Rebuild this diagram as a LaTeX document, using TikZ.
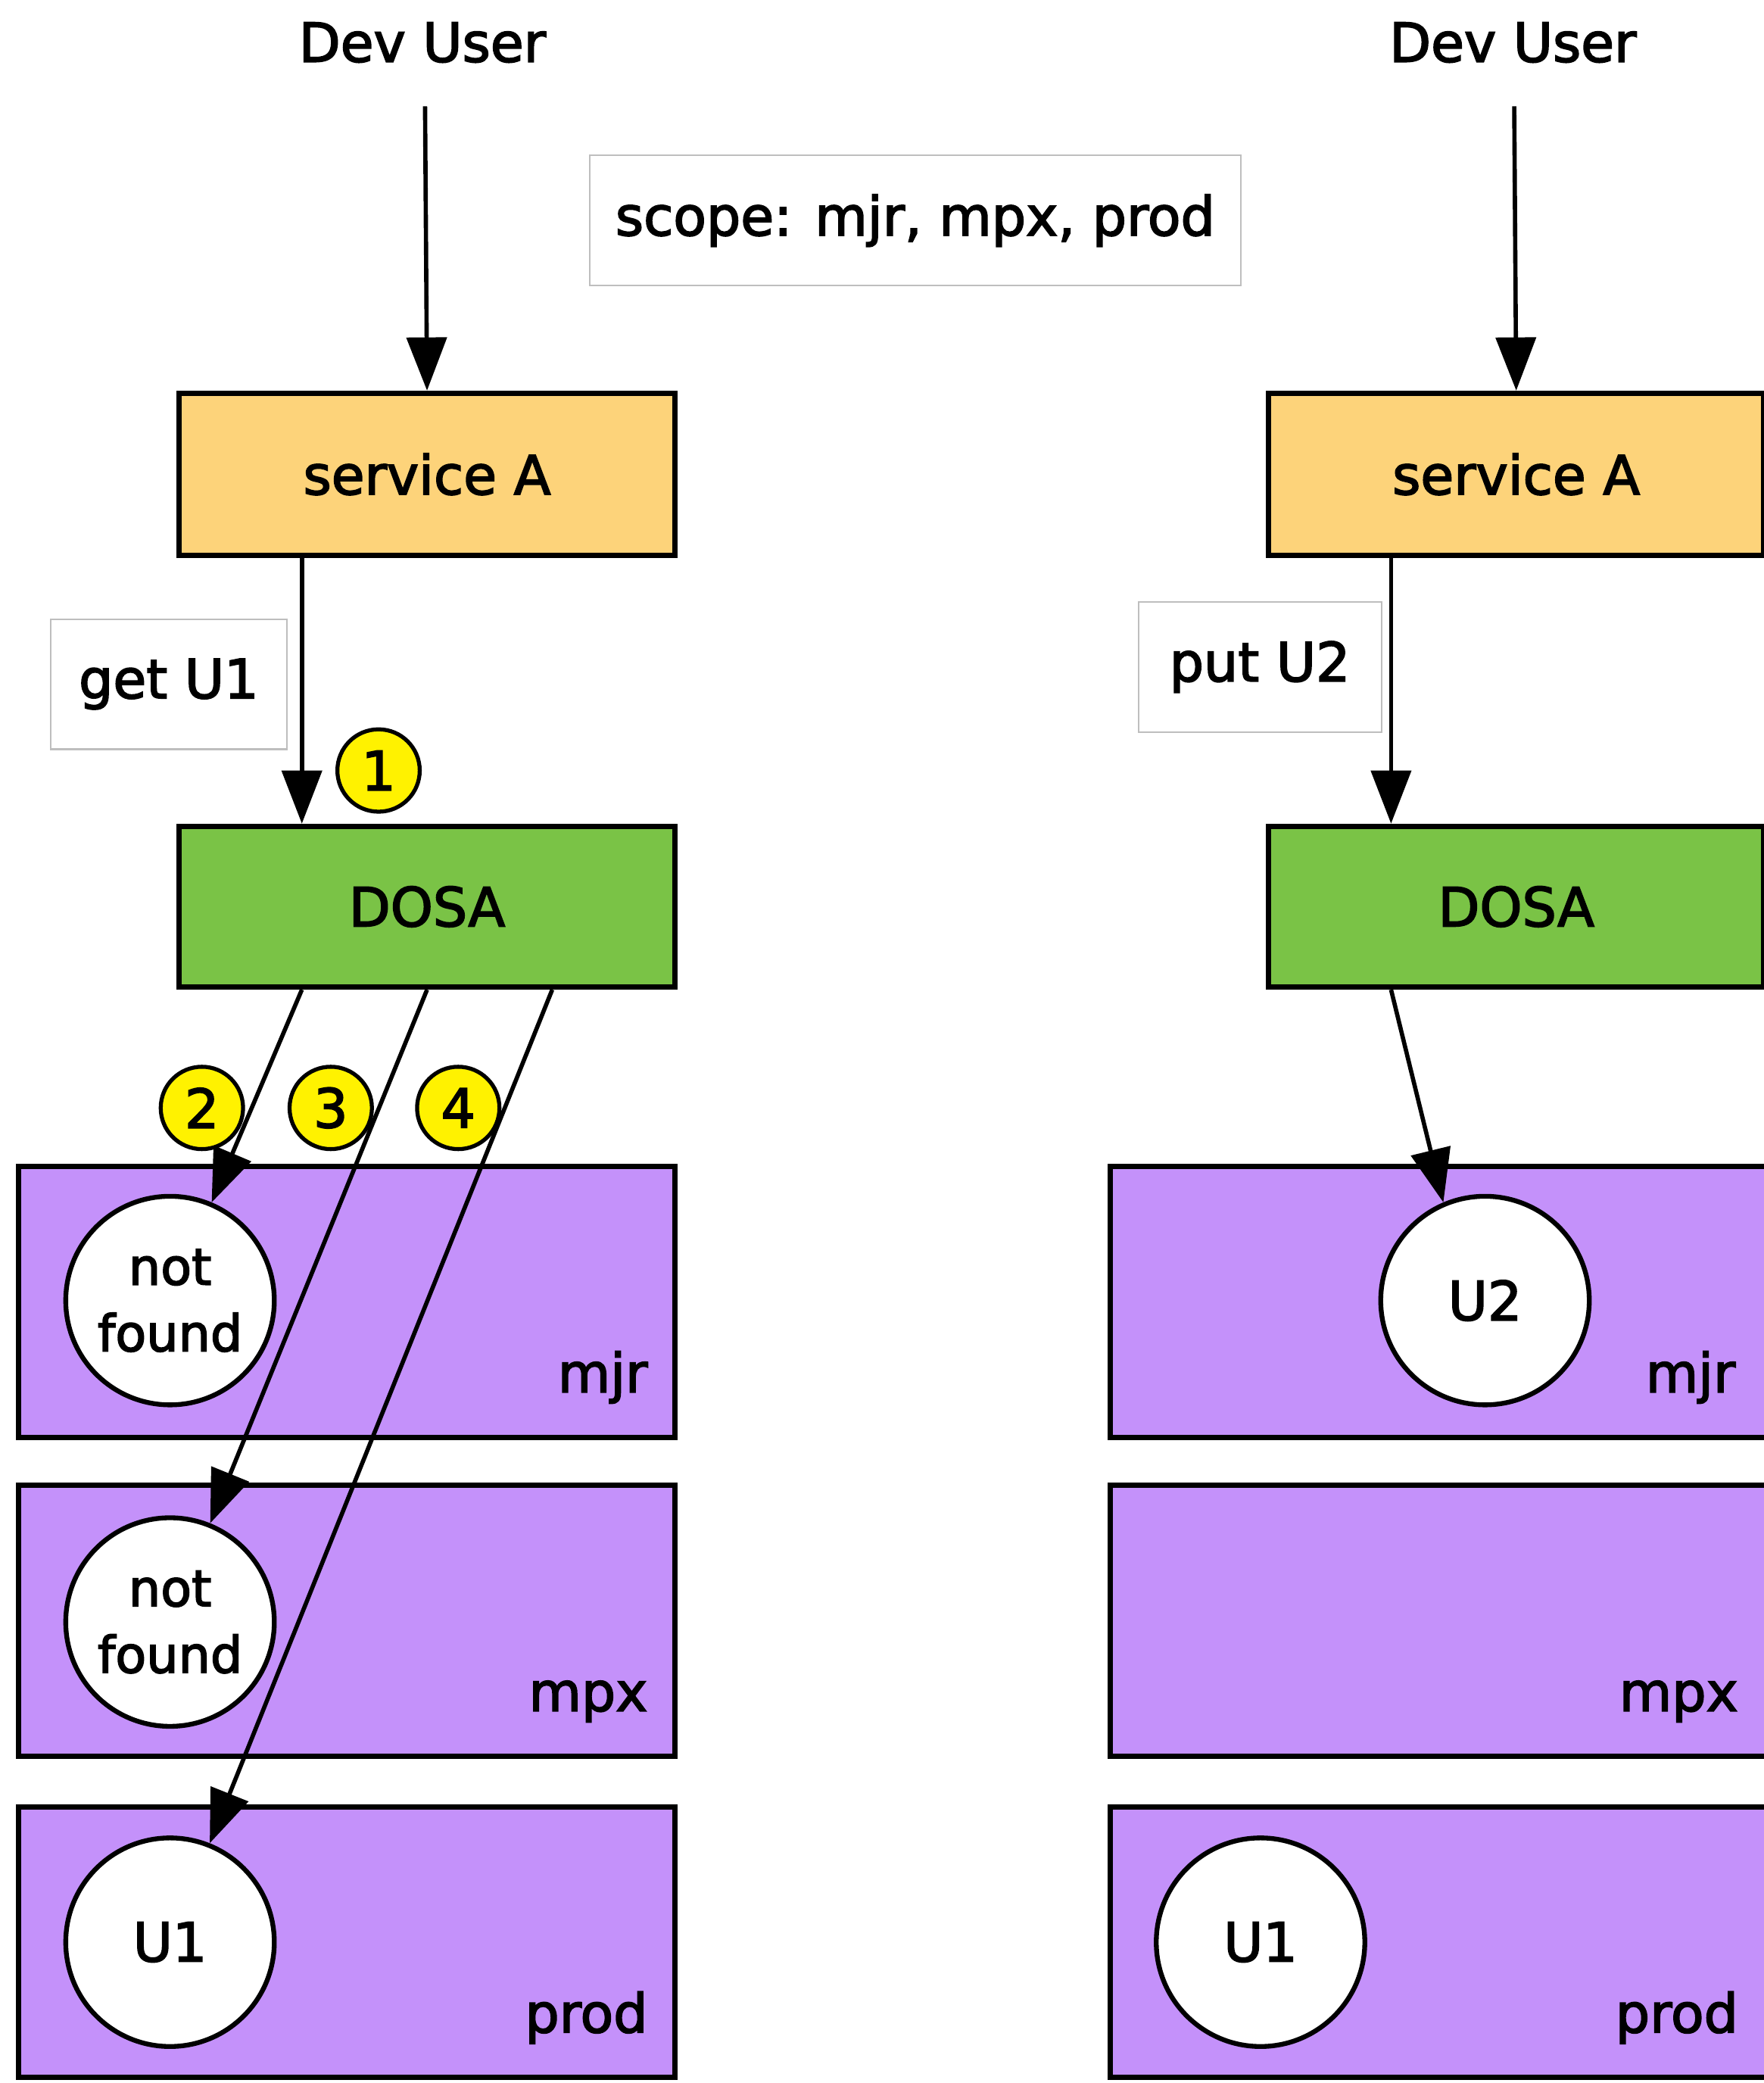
\documentclass[tikz,border=0pt]{standalone}
\usepackage{fontspec}
\setmainfont{DejaVu Sans}[FakeBold=2.5]
\usetikzlibrary{arrows.meta,calc}
\definecolor{svcfill}{RGB}{253,211,122}
\definecolor{dosafill}{RGB}{122,195,70}
\definecolor{storefill}{RGB}{196,145,250}
\definecolor{numyellow}{RGB}{255,242,0}
\definecolor{lblgray}{RGB}{190,190,190}
\begin{document}
\begin{tikzpicture}[x=0.017545cm, y=-0.017545cm,
  font=\fontsize{20.3pt}{25pt}\selectfont,
  box/.style={draw, line width=2pt, minimum width=6.544cm, minimum height=2.140cm, inner sep=0pt},
  svc/.style={box, fill=svcfill},
  dosa/.style={box, fill=dosafill, minimum height=2.123cm},
  store/.style={draw, line width=2pt, fill=storefill, minimum width=8.667cm, minimum height=3.579cm, inner sep=0pt},
  lbl/.style={draw=lblgray, line width=0.6pt, minimum height=1.719cm, inner sep=0pt},
  rec/.style={circle, draw, line width=1.8pt, fill=white, minimum size=2.755cm, inner sep=0pt, align=center},
  num/.style={circle, draw, line width=1.5pt, fill=numyellow, minimum size=1.088cm, inner sep=0pt},
  arr/.style={-{Triangle[length=20pt,width=15pt]}, line width=1.6pt},
  tag/.style={anchor=base east, inner sep=0pt}
]
\useasboundingbox (0,0) rectangle (1328,1568);

% ---------- left column ----------
\node (devL) at (318,32) {Dev User};
\coordinate (devLs) at (320,80);
\node[lbl, minimum width=8.597cm] (scope) at (689,166) {scope: mjr, mpx, prod};
\node[svc] (svcL) at (321.5,357) {service A};
\node[lbl, minimum width=3.123cm] (getU1) at (127,515) {get U1};
\node[dosa] (dosaL) at (321.5,682.5) {DOSA};

\node[store] (mjrL) at (261,980) {};
\node[store] (mpxL) at (261,1220) {};
\node[store] (prodL) at (261,1462) {};
\node[tag] (mjrLt) at ($(mjrL.south east)+(-22,-36)$) {mjr};
\node[tag] (mpxLt) at ($(mpxL.south east)+(-22,-36)$) {mpx};
\node[tag] (prodLt) at ($(prodL.south east)+(-22,-36)$) {prod};

\node[rec, font=\fontsize{19pt}{25pt}\selectfont] (nf1) at (128,979) {not\\found};
\node[rec, font=\fontsize{19pt}{25pt}\selectfont] (nf2) at (128,1221) {not\\found};
\node[rec] (u1L) at (128,1462) {U1};

\draw[arr] (devLs) -- (svcL.north);
\draw[arr] ($(svcL.south west)!.25!(svcL.south east)$) -- ($(dosaL.north west)!.25!(dosaL.north east)$);
\draw[arr] ($(dosaL.south west)!.25!(dosaL.south east)$) -- (nf1);
\draw[arr] (dosaL.south) -- (nf2);
\draw[arr] ($(dosaL.south west)!.75!(dosaL.south east)$) -- (u1L);

\node[num] (n1) at (285,580) {1};
\node[num] (n2) at (152,834) {2};
\node[num] (n3) at (249,834) {3};
\node[num] (n4) at (345,834) {4};

% ---------- right column ----------
\node (devR) at (1139,32) {Dev User};
\coordinate (devRs) at (1140,80);
\node[svc] (svcR) at (1141.5,357) {service A};
\node[lbl, minimum width=3.211cm] (putU2) at (948.5,502) {put U2};
\node[dosa] (dosaR) at (1141.5,682.5) {DOSA};

\node[store] (mjrR) at (1083,980) {};
\node[store] (mpxR) at (1083,1220) {};
\node[store] (prodR) at (1083,1462) {};
\node[tag] (mjrRt) at ($(mjrR.south east)+(-25,-36)$) {mjr};
\node[tag] (mpxRt) at ($(mpxR.south east)+(-23,-36)$) {mpx};
\node[tag] (prodRt) at ($(prodR.south east)+(-23,-36)$) {prod};

\node[rec] (u2) at (1118,979) {U2};
\node[rec] (u1R) at (949,1462) {U1};

\draw[arr] (devRs) -- (svcR.north);
\draw[arr] ($(svcR.south west)!.25!(svcR.south east)$) -- ($(dosaR.north west)!.25!(dosaR.north east)$);
\draw[arr] ($(dosaR.south west)!.25!(dosaR.south east)$) -- (u2.113);
\end{tikzpicture}
\end{document}
